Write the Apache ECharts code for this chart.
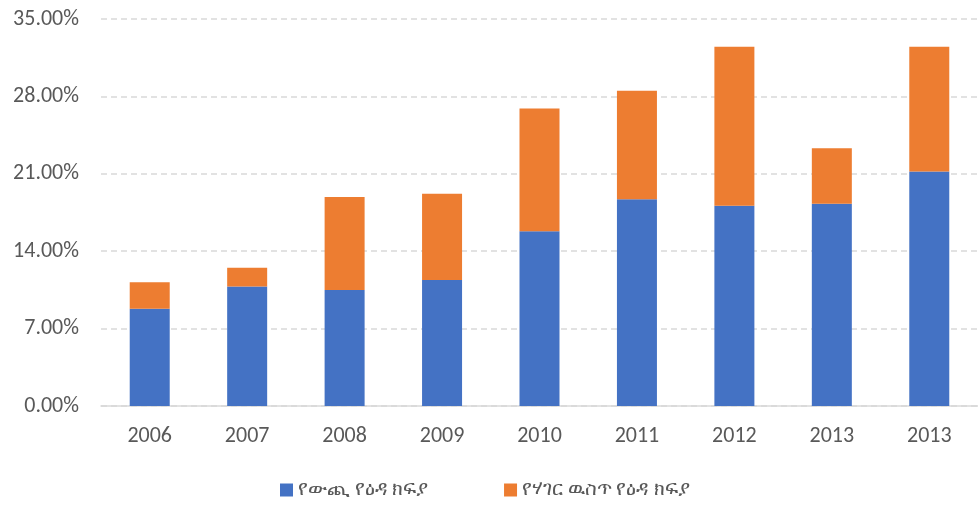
<!DOCTYPE html>
<html>
<head>
<meta charset="utf-8">
<script src="https://cdn.jsdelivr.net/npm/echarts@6/dist/echarts.min.js"></script>
<style>
  html, body { margin: 0; padding: 0; background: #fff; }
  #chart { width: 978px; height: 507px; }
</style>
</head>
<body>
<div id="chart"></div>
<script>
// years on the x axis (the last one repeats in the source)
const years = ['2006', '2007', '2008', '2009', '2010', '2011', '2012', '2013', '2013']
// external debt payments, % (blue)
const external = [8.8, 10.8, 10.5, 11.4, 15.8, 18.7, 18.1, 18.3, 21.2]
// domestic debt payments, % (orange, stacked on top)
const domestic = [2.4, 1.7, 8.4, 7.8, 11.1, 9.8, 14.4, 5.0, 11.3]
const seriesNames = ['የውጪ የዕዳ ክፍያ', 'የሃገር ዉስጥ የዕዳ ክፍያ']

const font = 'Calibri, Carlito, "Open Sans", "Noto Sans", sans-serif'
const myChart = echarts.init(document.getElementById('chart'))
myChart.setOption({
  animation: false,
  textStyle: { fontFamily: font },
  grid: { left: 101, right: 0, top: 19, bottom: 101 },
  legend: {
    bottom: 2,
    left: 275,
    itemWidth: 13,
    itemHeight: 13,
    itemGap: 76,
    icon: 'rect',
    textStyle: { fontSize: 20, color: '#595959', fontFamily: font },
    data: seriesNames
  },
  xAxis: {
    type: 'category',
    data: years,
    axisLine: { lineStyle: { color: '#d9d9d9', width: 1.5 } },
    axisTick: { show: false },
    axisLabel: { fontSize: 22, color: '#595959', margin: 19 }
  },
  yAxis: {
    type: 'value',
    min: 0,
    max: 35,
    interval: 7,
    axisLine: { show: false },
    axisTick: { show: false },
    axisLabel: {
      fontSize: 22,
      color: '#595959',
      margin: 22,
      formatter: v => v.toFixed(2) + '%'
    },
    splitLine: { lineStyle: { color: '#d9d9d9', type: [6, 4], width: 1.5 } }
  },
  series: [
    {
      name: seriesNames[0],
      type: 'bar',
      stack: 'debt',
      barWidth: 40,
      itemStyle: { color: '#4472c4' },
      data: external
    },
    {
      name: seriesNames[1],
      type: 'bar',
      stack: 'debt',
      barWidth: 40,
      itemStyle: { color: '#ed7d31' },
      data: domestic
    }
  ]
})
</script>
</body>
</html>
